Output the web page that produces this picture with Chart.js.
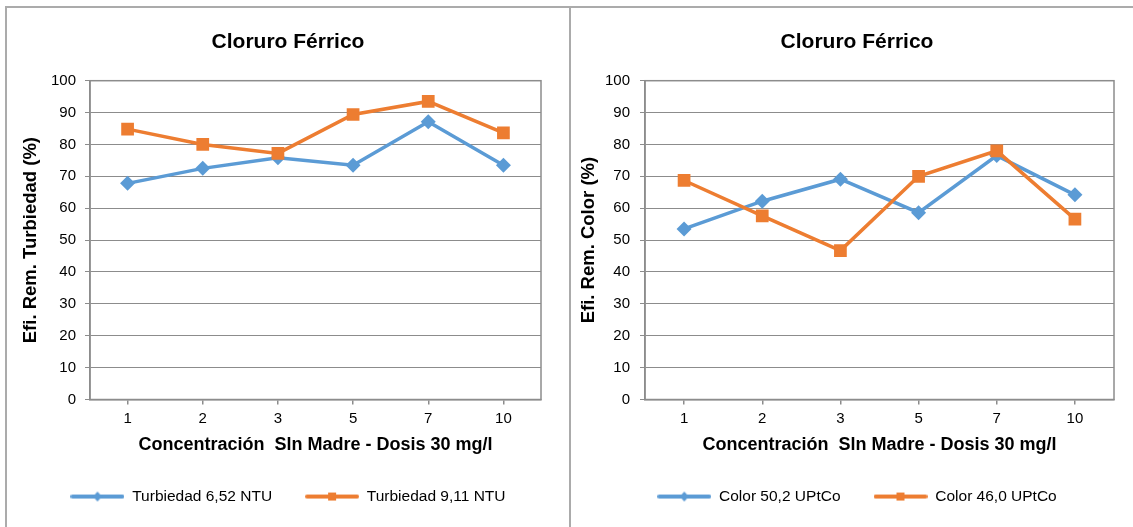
<!DOCTYPE html>
<html>
<head>
<meta charset="utf-8">
<script src="https://cdn.jsdelivr.net/npm/chart.js@4.4.1/dist/chart.umd.min.js"></script>
<style>
  html, body { margin: 0; padding: 0; background: #fff; width: 1133px; height: 527px; overflow: hidden; position: relative; }
  .box { position: absolute; top: 7px; height: 520px; }
  #boxL { left: 6px; width: 564px; }
  #boxR { left: 570px; width: 574px; }
  canvas { display: block; }
  .frame { position: absolute; background: #ababab; }
</style>
</head>
<body>
<div class="box" id="boxL"><canvas id="chartL" width="564" height="520"></canvas></div>
<div class="box" id="boxR"><canvas id="chartR" width="574" height="520"></canvas></div>
<div class="frame" style="left:5px; top:6px; width:1128px; height:2px;"></div>
<div class="frame" style="left:5px; top:6px; width:2px; height:521px;"></div>
<div class="frame" style="left:569px; top:6px; width:2px; height:521px;"></div>
<script>
// Concentración de la solución madre (eje X)
const categories = ['1', '2', '3', '5', '7', '10'];

// Eficiencia de remoción de turbiedad (%)
const turbiedad652 = [67.8, 72.5, 75.8, 73.5, 87.1, 73.5];
const turbiedad911 = [84.8, 80.0, 77.2, 89.4, 93.5, 83.6];

// Eficiencia de remoción de color (%)
const color502 = [53.5, 62.2, 69.1, 58.6, 76.5, 64.2];
const color460 = [68.7, 57.6, 46.7, 70.0, 78.0, 56.6];

// Marcas del eje Y
const yTickValues = [0, 10, 20, 30, 40, 50, 60, 70, 80, 90, 100];

const FONT = "'Liberation Sans', Arial, sans-serif";
const BLUE = '#5B9BD5';
const ORANGE = '#ED7D31';
const GRID = '#8c8c8c';

// Icono de leyenda: segmento de línea con el marcador al centro
function legendIcon(color, shape) {
  const c = document.createElement('canvas');
  c.width = 54; c.height = 14;
  const g = c.getContext('2d');
  g.strokeStyle = color; g.lineWidth = 4; g.lineCap = 'round';
  g.beginPath(); g.moveTo(2, 7); g.lineTo(52, 7); g.stroke();
  g.fillStyle = color;
  if (shape === 'diamond') {
    g.beginPath(); g.moveTo(27, 2); g.lineTo(31.5, 7); g.lineTo(27, 12); g.lineTo(22.5, 7); g.closePath(); g.fill();
  } else {
    g.fillRect(23, 3, 8, 8);
  }
  return c;
}
const icons = [legendIcon(BLUE, 'diamond'), legendIcon(ORANGE, 'square')];

// Marco del área de trazado
const plotFrame = {
  id: 'plotFrame',
  beforeDatasetsDraw(chart) {
    const { ctx, chartArea: a } = chart;
    ctx.save();
    ctx.strokeStyle = GRID;
    ctx.lineWidth = 1.5;
    ctx.strokeRect(a.left, a.top, a.right - a.left, a.bottom - a.top);
    ctx.restore();
  }
};

function makeChart(id, opts) {
  return new Chart(document.getElementById(id), {
    type: 'line',
    data: {
      labels: categories,
      datasets: [
        {
          label: opts.labels[0], data: opts.series[0], order: 1,
          borderColor: BLUE, backgroundColor: BLUE, borderWidth: 3.5,
          pointStyle: 'rectRot', pointRadius: 7.5, pointHoverRadius: 7.5, pointBorderWidth: 0, tension: 0
        },
        {
          label: opts.labels[1], data: opts.series[1], order: 0,
          borderColor: ORANGE, backgroundColor: ORANGE, borderWidth: 3.5,
          pointStyle: 'rect', pointRadius: 9, pointHoverRadius: 9, pointBorderWidth: 0, tension: 0
        }
      ]
    },
    options: {
      responsive: false,
      animation: false,
      events: [],
      layout: { padding: { left: opts.side, right: opts.side, top: 0, bottom: 12.7 } },
      plugins: {
        title: {
          display: true, text: 'Cloruro Férrico', color: '#000',
          font: { family: FONT, size: 21, weight: 'bold' },
          padding: { top: 22.6, bottom: 25.9 }
        },
        legend: {
          position: 'bottom',
          labels: {
            usePointStyle: true, pointStyleWidth: 54, padding: 33, color: '#000',
            font: { family: FONT, size: 15.5 },
            sort: (a, b) => a.datasetIndex - b.datasetIndex,
            generateLabels(chart) {
              return Chart.defaults.plugins.legend.labels.generateLabels(chart)
                .map(item => Object.assign(item, { pointStyle: icons[item.datasetIndex] }));
            }
          }
        },
        tooltip: { enabled: false }
      },
      scales: {
        x: {
          offset: true,
          grid: { offset: false, drawOnChartArea: false, drawTicks: true, tickLength: 5, color: GRID, lineWidth: 1.5 },
          border: { display: true, color: GRID, width: 1.5 },
          ticks: { color: '#000', padding: 5, font: { family: FONT, size: 15 } },
          title: {
            display: true, text: 'Concentración  Sln Madre - Dosis 30 mg/l', color: '#000',
            font: { family: FONT, size: 18, weight: 'bold' }, padding: { top: 0, bottom: 0 }
          },
          afterFit(scale) { scale.height = 56.3; }
        },
        y: {
          min: 0, max: 100,
          afterBuildTicks(scale) { scale.ticks = yTickValues.map(v => ({ value: v })); },
          grid: { color: GRID, lineWidth: 1, tickLength: 5 },
          border: { display: true, color: GRID, width: 1.5 },
          ticks: { color: '#000', padding: opts.tickPad, font: { family: FONT, size: 15 } },
          title: {
            display: true, text: opts.yTitle, color: '#000',
            font: { family: FONT, size: 18.5, weight: 'bold' }, padding: { top: opts.yTitlePad, bottom: 0 }
          },
          afterFit(scale) { scale.width = opts.yWidth; }
        }
      }
    },
    plugins: [plotFrame]
  });
}

makeChart('chartL', {
  labels: ['Turbiedad 6,52 NTU', 'Turbiedad 9,11 NTU'],
  series: [turbiedad652, turbiedad911],
  yTitle: 'Efi. Rem. Turbiedad (%)',
  side: 29, yWidth: 55, yTitlePad: -14.8, tickPad: 9
});

makeChart('chartR', {
  labels: ['Color 50,2 UPtCo', 'Color 46,0 UPtCo'],
  series: [color502, color460],
  yTitle: 'Efi. Rem. Color (%)',
  side: 30, yWidth: 45, yTitlePad: -21.8, tickPad: 10
});
</script>
</body>
</html>
